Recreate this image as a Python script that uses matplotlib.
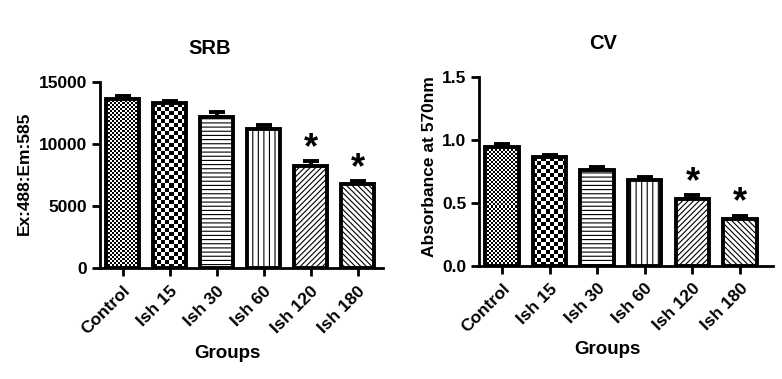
import numpy as np
import matplotlib
matplotlib.use('Agg')
import matplotlib.pyplot as plt

plt.rcParams['font.family'] = ['Liberation Sans', 'DejaVu Sans']
plt.rcParams['font.weight'] = 'bold'
plt.rcParams['hatch.linewidth'] = 0.8

groups = ['Control', 'Ish 15', 'Ish 30', 'Ish 60', 'Ish 120', 'Ish 180']

srb_mean = [13650, 13280, 12200, 11210, 8250, 6770]
srb_err = [250, 220, 420, 320, 380, 250]

cv_mean = [0.940, 0.860, 0.757, 0.680, 0.527, 0.373]
cv_err = [0.023, 0.021, 0.024, 0.026, 0.032, 0.024]

significant = [False, False, False, False, True, True]

# fill style per bar: checker cell size in px, or hatch string
fills = [('check', 2), ('check', 4), ('hatch', '----'), ('hatch', '|||'),
         ('hatch', '//////'), ('hatch', '\\\\\\\\\\\\')]

W, H = 782, 379
fig = plt.figure(figsize=(W / 100, H / 100), dpi=100)


def px_axes(x0, x1, y_bottom, y_top):
    return fig.add_axes([x0 / W, 1 - y_bottom / H, (x1 - x0) / W, (y_bottom - y_top) / H])


def draw_panel(ax, means, errs, ymax, yticks, yticklabels, xright, star_off):
    x = np.arange(len(groups))
    ax.set_xlim(-0.48, xright)
    ax.set_ylim(0, ymax)
    bars = ax.bar(x, means, width=0.7, color='white', edgecolor='black',
                  linewidth=2.8, zorder=3)
    fig.canvas.draw()
    for b, (kind, val) in zip(bars, fills):
        if kind == 'hatch':
            b.set_hatch(val)
        else:
            # checkerboard sized in pixels, clipped to the bar
            b.set_facecolor('none')
            bb = b.get_window_extent()
            nx = max(int(round(bb.width / val)), 1)
            ny = max(int(round(bb.height / val)), 1)
            board = (np.add.outer(np.arange(ny), np.arange(nx)) % 2).astype(float)
            im = ax.imshow(board, cmap='gray', interpolation='nearest', aspect='auto',
                           extent=[b.get_x(), b.get_x() + b.get_width(), 0, b.get_height()],
                           zorder=2.5)
            im.set_clip_path(b)
    ax.set_xlim(-0.48, xright)
    ax.set_ylim(0, ymax)
    ax.errorbar(x, means, yerr=[np.zeros(len(means)), errs], fmt='none',
                ecolor='black', elinewidth=2.8, capsize=6, capthick=2.8, zorder=2)
    for i, sig in enumerate(significant):
        if sig:
            ax.text(x[i], means[i] + errs[i] + star_off, '*', ha='center', va='center',
                    fontsize=26, fontweight='bold', zorder=4)
    for s in ['top', 'right']:
        ax.spines[s].set_visible(False)
    for s in ['left', 'bottom']:
        ax.spines[s].set_linewidth(2)
    ax.set_yticks(yticks)
    ax.set_yticklabels(yticklabels, fontsize=12.5, fontweight='bold')
    ax.set_xticks(x)
    ax.set_xticklabels(groups, rotation=45, ha='right', va='top',
                       rotation_mode='anchor', fontsize=12.5, fontweight='bold')
    ax.tick_params(axis='both', direction='out', length=6, width=2, pad=3)
    ax.tick_params(axis='x', pad=5)


ax1 = px_axes(100, 383, 268, 82)
draw_panel(ax1, srb_mean, srb_err, 15000, [0, 5000, 10000, 15000],
           ['0', '5000', '10000', '15000'], 5.54, 1000)

ax2 = px_axes(479, 773, 265.7, 76.7)
draw_panel(ax2, cv_mean, cv_err, 1.5, [0, 0.5, 1.0, 1.5],
           ['0.0', '0.5', '1.0', '1.5'], 5.69, 0.1)

fig.text(210 / W, 1 - 48.5 / H, 'SRB', ha='center', va='center', fontsize=14.5, fontweight='bold')
fig.text(603 / W, 1 - 43.5 / H, 'CV', ha='center', va='center', fontsize=14.5, fontweight='bold')
fig.text(24.5 / W, 1 - 173 / H, 'Ex:488:Em:585', rotation=90, ha='center', va='center',
         fontsize=12.5, fontweight='bold')
fig.text(430 / W, 1 - 166.5 / H, 'Absorbance at 570nm', rotation=90, ha='center', va='center',
         fontsize=12.5, fontweight='bold')
fig.text(227 / W, 1 - 353 / H, 'Groups', ha='center', va='center', fontsize=13.5, fontweight='bold')
fig.text(607 / W, 1 - 350 / H, 'Groups', ha='center', va='center', fontsize=13.5, fontweight='bold')

fig.savefig('out.png', dpi=100)
